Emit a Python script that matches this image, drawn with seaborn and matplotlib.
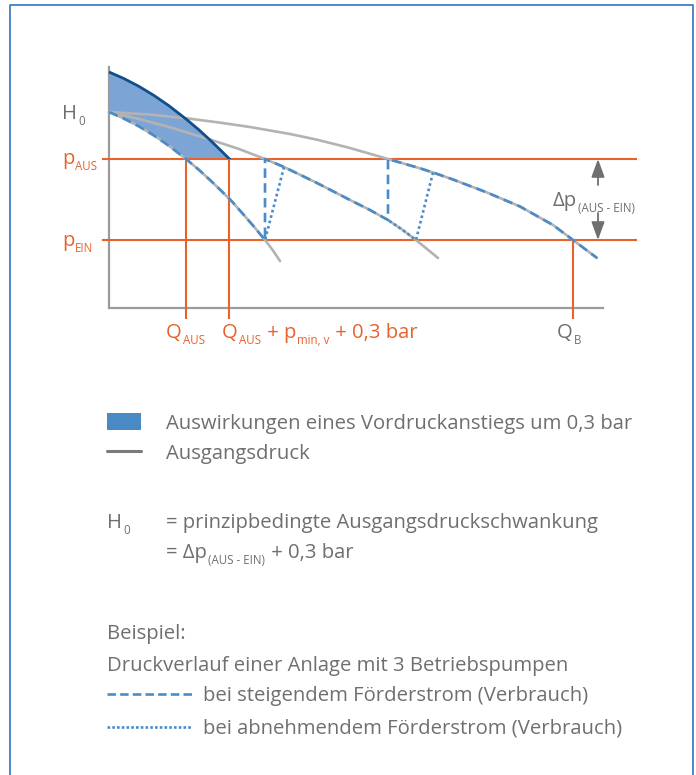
import matplotlib
matplotlib.use("Agg")
import matplotlib.pyplot as plt
from matplotlib.lines import Line2D
from matplotlib.patches import Patch, Rectangle
import numpy as np
import pandas as pd
import seaborn as sns

# Pump characteristic curves (flow Q, delivery head H, schematic units)
q_one = [0, 15, 30, 45, 60, 77, 90, 101, 112, 123, 134, 145, 156, 164, 171]
h_one = [196, 189.4, 181.6, 172.5, 162.2, 149, 138.1, 128, 117.4, 106.5, 94, 81.3, 68, 57.5, 47]
q_two = [0, 30, 60, 101, 130, 156, 175, 208, 241, 260, 279, 293, 307, 318, 329]
h_two = [196, 189, 181, 168.5, 159, 149, 141, 125, 108, 98.5, 88, 78.5, 68, 59, 50]
q_three = [0, 40, 79, 110, 141, 181, 208, 241, 279, 311, 324, 344, 378, 411, 444, 464, 488]
h_three = [196, 193.5, 189.5, 185.5, 181, 174, 168.3, 160, 149, 139.7, 135.5, 128.5, 115.5,
           101.5, 83, 68, 50]

p_aus = 149        # switch-off pressure
p_ein = 68         # switch-on pressure
inlet_rise = 40    # inlet pressure rise of 0.3 bar
q_aus = 77
q_aus_plus = 120
q_b = 464

ORANGE = "#e8622c"
GREY_CURVE = "#b3b3b3"
GREY_TEXT = "#6f6f6f"
BLUE_DASH = "#4a8bc8"
BLUE_FILL = "#7ca5d6"
BLUE_EDGE = "#0f4f8c"
BLUE_KEY = "#4a8ac4"
FS = 14.6
FS_SUB = 8.3

sns.set_theme(style="white")
plt.rcParams["font.family"] = ["Open Sans", "DejaVu Sans"]

W, H = 696, 775
fig = plt.figure(figsize=(W / 100, H / 100), dpi=100)
ax = fig.add_axes([0, 0, 1, 1])
ax.set_xlim(-109, W - 109)
ax.set_ylim(308 - H, 308)
ax.set_xticks([])
ax.set_yticks([])

# axes drawn as spines through the origin
for side in ("top", "right"):
    ax.spines[side].set_visible(False)
for side in ("left", "bottom"):
    ax.spines[side].set_position(("data", 0))
    ax.spines[side].set_color("#9b9b9b")
    ax.spines[side].set_linewidth(1.6)
    ax.spines[side].set_zorder(1)
ax.spines["left"].set_bounds(0, 241)
ax.spines["bottom"].set_bounds(0, 494)

# switching pressure levels and flow markers
for lvl in (p_aus, p_ein):
    ax.plot([-7, 528], [lvl, lvl], color=ORANGE, lw=1.5, zorder=1.2, solid_capstyle="butt")
for q, top in ((q_aus, p_aus), (q_aus_plus, p_aus), (q_b, p_ein)):
    ax.plot([q, q], [top, -11], color=ORANGE, lw=1.5, zorder=1.2, solid_capstyle="butt")

# effect of the inlet pressure rise: shaded band above the single-pump curve
q1 = np.array(q_one, dtype=float)
h1 = np.array(h_one, dtype=float)
raised = h1 + inlet_rise
ax.fill_between(q1, raised, np.maximum(h1, p_aus), where=raised >= p_aus,
                interpolate=True, color=BLUE_FILL, lw=0, zorder=1.1)

# pump curves for 1, 2 and 3 pumps in operation
curves = pd.DataFrame({
    "Q": q_one + q_two + q_three,
    "H": h_one + h_two + h_three,
    "pumps": [1] * len(q_one) + [2] * len(q_two) + [3] * len(q_three),
})
sns.lineplot(data=curves, x="Q", y="H", units="pumps", estimator=None,
             color=GREY_CURVE, lw=1.9, legend=False, ax=ax, zorder=2)

edge, = ax.plot(q1, raised, color=BLUE_EDGE, lw=2.0, zorder=2.5, solid_capstyle="butt")
clip = Rectangle((-20, p_aus), 300, 200, transform=ax.transData, visible=False)
ax.add_patch(clip)
edge.set_clip_path(clip)

# switching points along the curves
i1_on = q_one.index(156)
i2_off, i2_sw, i2_on = q_two.index(156), q_two.index(279), q_two.index(307)
i2_back = q_two.index(175)
i3_off, i3_back = q_three.index(279), q_three.index(324)

# operating path with rising demand (dashed)
rise_q = q_one[:i1_on + 1] + q_two[i2_off:i2_sw + 1] + q_three[i3_off:]
rise_h = h_one[:i1_on + 1] + h_two[i2_off:i2_sw + 1] + h_three[i3_off:]
ax.plot(rise_q, rise_h, color=BLUE_DASH, lw=1.9, ls=(0, (3.6, 2.0)), zorder=3)

# operating path with falling demand (dotted)
ax.plot([q_three[i3_back]] + q_two[i2_sw:i2_on + 1][::-1],
        [h_three[i3_back]] + h_two[i2_sw:i2_on + 1][::-1],
        color=BLUE_DASH, lw=1.9, ls=(0, (1.0, 1.1)), zorder=3)
ax.plot([q_two[i2_back], q_one[i1_on]], [h_two[i2_back], h_one[i1_on]],
        color=BLUE_DASH, lw=1.9, ls=(0, (1.0, 1.1)), zorder=3)

# pressure band arrows
q_arrow = 489
arrow_kw = dict(arrowstyle="-|>,head_length=0.55,head_width=0.2", color=GREY_TEXT,
                lw=1.3, mutation_scale=20, shrinkA=0, shrinkB=0)
ax.annotate("", xy=(q_arrow, p_aus), xytext=(q_arrow, p_aus - 26), arrowprops=arrow_kw)
ax.annotate("", xy=(q_arrow, p_ein), xytext=(q_arrow, p_ein + 27), arrowprops=arrow_kw)


def rich_text(x, y, parts, coords, color, size=FS, sub_size=FS_SUB, drop=4.0):
    """Baseline-aligned text made of normal and subscript pieces."""
    prev = None
    for txt, is_sub in parts:
        fs = sub_size if is_sub else size
        dy = -drop if is_sub else 0
        if prev is None:
            prev = ax.annotate(txt, xy=(x, y), xycoords=coords, xytext=(0, dy),
                               textcoords="offset points", fontsize=fs, color=color,
                               va="baseline", ha="left", annotation_clip=False)
        else:
            prev = ax.annotate(txt, xy=(1, y), xycoords=(prev, coords), xytext=(0.7, dy),
                               textcoords="offset points", fontsize=fs, color=color,
                               va="baseline", ha="left", annotation_clip=False)
    return prev


# chart labels
rich_text(-47, 308 - 119, [("H", False), ("0", True)], "data", GREY_TEXT)
rich_text(-47, 308 - 164, [("p", False), ("AUS", True)], "data", ORANGE)
rich_text(-47, 308 - 246, [("p", False), ("EIN", True)], "data", ORANGE)
rich_text(57, 308 - 338, [("Q", False), ("AUS", True)], "data", ORANGE)
rich_text(113, 308 - 338, [("Q", False), ("AUS", True), (" + p", False),
                           ("min, v", True), (" + 0,3 bar", False)], "data", ORANGE)
rich_text(448, 308 - 338, [("Q", False), ("B", True)], "data", GREY_TEXT)
rich_text(444, 308 - 206, [("Δp", False), ("(AUS - EIN)", True)], "data", GREY_TEXT)

# legend: shaded effect and base curve
leg1 = ax.legend(
    handles=[Patch(facecolor=BLUE_KEY, edgecolor="none"),
             Line2D([], [], color="#7a7a7a", lw=2.2)],
    labels=["Auswirkungen eines Vordruckanstiegs um 0,3 bar", "Ausgangsdruck"],
    loc="upper left", bbox_to_anchor=(107 / W, 1 - 413 / H), bbox_transform=fig.transFigure,
    frameon=False, fontsize=FS, handlelength=1.68, handleheight=0.95,
    handletextpad=1.23, labelspacing=0.48, borderpad=0, borderaxespad=0,
    labelcolor=GREY_TEXT)
ax.add_artist(leg1)

fp = "figure pixels"
rich_text(107, H - 528, [("H", False), ("0", True)], fp, GREY_TEXT)
rich_text(166, H - 528, [("= prinzipbedingte Ausgangsdruckschwankung", False)], fp, GREY_TEXT)
rich_text(166, H - 558, [("= Δp", False), ("(AUS - EIN)", True), (" + 0,3 bar", False)], fp, GREY_TEXT)
rich_text(107, H - 639, [("Beispiel:", False)], fp, GREY_TEXT)
rich_text(107, H - 671, [("Druckverlauf einer Anlage mit 3 Betriebspumpen", False)], fp, GREY_TEXT)

# legend: operating paths
ax.legend(
    handles=[Line2D([], [], color=BLUE_DASH, lw=1.9, ls=(0, (3.2, 1.6))),
             Line2D([], [], color=BLUE_DASH, lw=1.9, ls=(0, (1.0, 0.8)))],
    labels=["bei steigendem Förderstrom (Verbrauch)", "bei abnehmendem Förderstrom (Verbrauch)"],
    loc="upper left", bbox_to_anchor=(107 / W, 1 - 686 / H), bbox_transform=fig.transFigure,
    frameon=False, fontsize=FS, handlelength=4.2, handletextpad=0.54,
    labelspacing=0.64, borderpad=0, borderaxespad=0, labelcolor=GREY_TEXT)

# outer frame
fig.add_artist(Line2D([10 / W, 10 / W, 693 / W, 693 / W], [0, 1 - 4.5 / H, 1 - 4.5 / H, 0],
                      transform=fig.transFigure, color="#3f80c0", lw=1.3))

fig.savefig("out.png", dpi=100)
